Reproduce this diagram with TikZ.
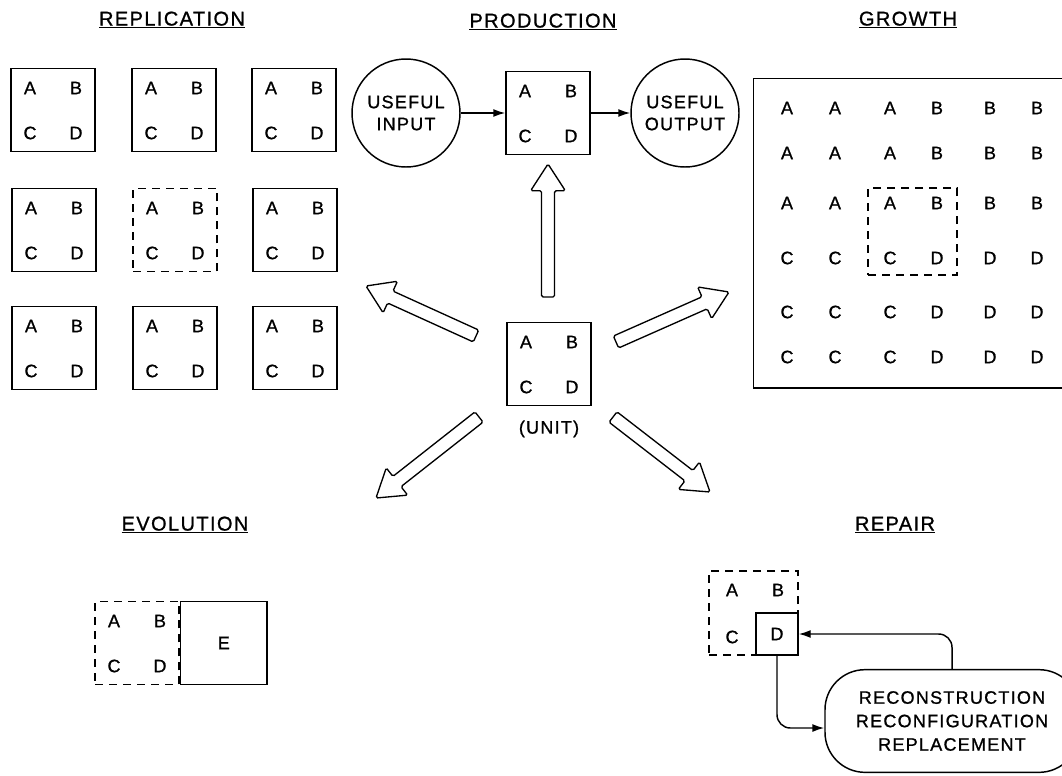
\documentclass[tikz,border=0pt]{standalone}
\usepackage{fontspec}
\setmainfont[LetterSpace=7,FakeBold=1]{Liberation Sans}
\usepackage{tikz}
\usetikzlibrary{calc}
\usetikzlibrary{positioning}
\usetikzlibrary{arrows.meta}

\begin{document}
\begin{tikzpicture}[x=0.75pt,y=-0.75pt,>={Latex[length=9pt,width=6pt]},line width=1.1pt,
    every node/.style={font=\fontsize{13.5}{16.5}\selectfont},
    title/.style={font=\fontsize{15}{18}\selectfont},
    unitbox/.style={draw,minimum width=63pt,minimum height=62pt,inner sep=0pt},
    dbox/.style={dash pattern=on 6pt off 4.5pt},
    fat/.style={draw,line width=1pt,rounded corners=1.2pt}]
  \useasboundingbox (0,0) rectangle (1062,775);

  \node[title] (trep)  at (172,20)  {\underline{REPLICATION}};
  \node[title] (tprod) at (543,22)  {\underline{PRODUCTION}};
  \node[title] (tgrow) at (908,20)  {\underline{GROWTH}};
  \node[title] (tevo)  at (185,525) {\underline{EVOLUTION}};
  \node[title] (trpr)  at (895,525) {\underline{REPAIR}};

  \foreach \x/\y/\n/\s in {53/110/r1/solid, 174/110/r2/solid, 294/110/r3/solid,
      54/230/r4/solid, 175/230/r5/dbox, 295/230/r6/solid,
      54/348/r7/solid, 175/348/r8/solid, 295/348/r9/solid,
      548/113/prod/solid, 549/364/unit/solid, 137/643/evo/dbox}
  {
    \node[unitbox,\s] (\n) at (\x,\y) {};
    \path (\n) +(-23,-22) node (\n-a) {A} +(23,-22) node (\n-b) {B}
               +(-23,23) node (\n-c) {C} +(23,23) node (\n-d) {D};
  }

  \node[below=7pt of unit] (unitlbl) {(UNIT)};

  \node[circle,draw,minimum size=81pt,inner sep=0pt,align=center] (uin)  at (406,113) {USEFUL\\INPUT};
  \node[circle,draw,minimum size=81pt,inner sep=0pt,align=center] (uout) at (685,113) {USEFUL\\OUTPUT};
  \draw[->] (uin) -- (prod);
  \draw[->] (prod) -- (uout);

  \node[draw,anchor=north west,minimum width=235pt,minimum height=232pt,inner sep=0pt] (grow) at (753,78) {};
  \node[draw,dbox,minimum width=66.75pt,minimum height=65.25pt,inner sep=0pt] (gdash) at (912.5,231.5) {};
  \foreach \y/\p/\q in {108/A/B, 153/A/B, 203/A/B, 258/C/D, 312/C/D, 357/C/D}
  {
    \foreach \x in {787,835,890} \node (g-\x-\y) at (\x,\y) {\p};
    \foreach \x in {937,990,1037} \node (g-\x-\y) at (\x,\y) {\q};
  }

  \node[unitbox,minimum width=65pt,right=0pt of evo] (evoe) {E};

  \node[draw,dbox,minimum width=66.75pt,minimum height=63pt,inner sep=0pt] (rpr) at (753.5,613) {};
  \path (rpr) +(-21.5,-23) node (rpr-a) {A} +(24.5,-23) node (rpr-b) {B} +(-21.5,24) node (rpr-c) {C};
  \node[draw,fill=white,minimum size=31.5pt,inner sep=0pt,anchor=south east] (rprd) at (rpr.south east) {D};
  \node[draw,rounded corners=30pt,minimum width=190.5pt,minimum height=77pt,align=center,
        font=\fontsize{13.5}{17.6}\selectfont] (fix) at (952,721)
        {RECONSTRUCTION\\RECONFIGURATION\\REPLACEMENT};
  \draw[->,rounded corners=10pt] (rprd.south) |- ($(fix.west)+(0,7)$);
  \draw[->,rounded corners=10pt] (fix.north) |- (rprd.east);

  \coordinate (up0) at (548,297); \coordinate (up1) at (548,164);
  \coordinate (ul0) at (476,336); \coordinate (ul1) at (366,286);
  \coordinate (ur0) at (616,342); \coordinate (ur1) at (729,292);
  \coordinate (ll0) at (479,417); \coordinate (ll1) at (376,498);
  \coordinate (lr0) at (613,417); \coordinate (lr1) at (710,492);
  \foreach \s/\t in {up0/up1, ul0/ul1, ur0/ur1, ll0/ll1, lr0/lr1}
  {
    \coordinate (hd) at ($(\t)!20pt!(\s)$);
    \draw[fat] ($(\s)!4.9pt!90:(\t)$) -- ($(hd)!4.9pt!90:(\t)$) -- ($(hd)!13pt!90:(\t)$)
      -- (\t) -- ($(hd)!13pt!-90:(\t)$) -- ($(hd)!4.9pt!-90:(\t)$) -- ($(\s)!4.9pt!-90:(\t)$) -- cycle;
  }
\end{tikzpicture}
\end{document}
